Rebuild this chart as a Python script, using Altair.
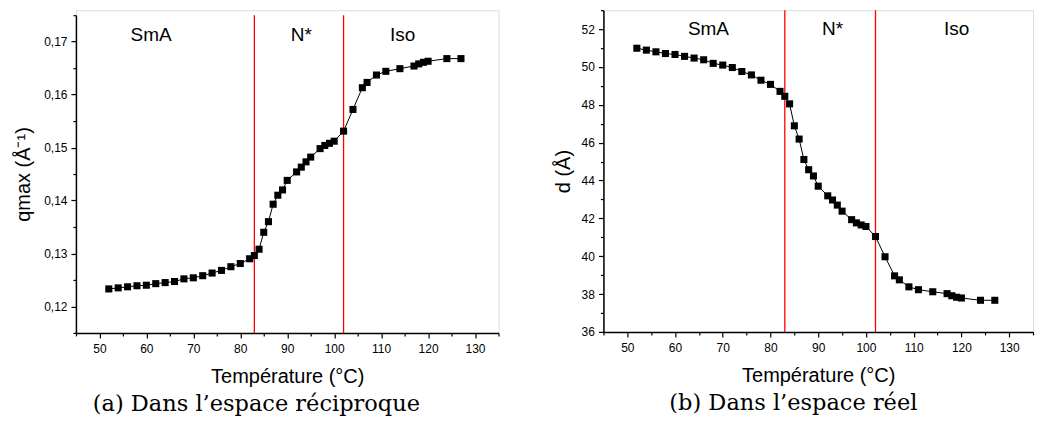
import altair as alt
import pandas as pd

# ---- data ----
temps = [52, 54, 56, 58, 60, 62, 64, 66, 68, 70, 72, 74, 76, 78, 80, 82,
         83, 84, 85, 86, 87, 88, 89, 90, 92, 93, 94, 95, 97, 98, 99, 100,
         102, 104, 106, 107, 109, 111, 114, 117, 118, 119, 120, 124, 127]
qmax = [0.1233, 0.1235, 0.1237, 0.1239, 0.1240, 0.1243, 0.1245, 0.1247,
        0.1252, 0.1254, 0.1258, 0.1263, 0.1268, 0.1275, 0.1281, 0.1290,
        0.1296, 0.1308, 0.1340, 0.1360, 0.1393, 0.1410, 0.1420, 0.1438,
        0.1454, 0.1463, 0.1473, 0.1482, 0.1498, 0.1504, 0.1508, 0.1512,
        0.1531, 0.1572, 0.1613, 0.1623, 0.1637, 0.1644, 0.1649, 0.1654,
        0.1658, 0.1661, 0.1663, 0.1668, 0.1668]
d_vals = [50.99, 50.89, 50.80, 50.71, 50.66, 50.56, 50.47, 50.38, 50.19,
          50.10, 49.97, 49.76, 49.58, 49.30, 49.08, 48.71, 48.45, 48.05,
          46.89, 46.19, 45.11, 44.57, 44.24, 43.70, 43.19, 42.97, 42.70,
          42.38, 41.93, 41.76, 41.65, 41.57, 41.04, 39.97, 38.96, 38.75,
          38.38, 38.23, 38.12, 38.02, 37.91, 37.83, 37.79, 37.67, 37.67]
transitions = [83, 102]
phase_names = ["SmA", "N*", "Iso"]
phase_x_left = [61, 93, 114.6]
phase_y_left = [0.1712, 0.1712, 0.1712]
phase_x_right = [67, 93, 119]
phase_y_right = [52.0, 52.0, 52.0]

x_domain = [45, 135]
q_domain = [0.115, 0.175]
d_domain = [36, 53]
x_ticks = list(range(45, 136, 5))
yq_ticks = [round(0.115 + 0.005 * i, 3) for i in range(13)]
yd_ticks = list(range(36, 54))

df = pd.DataFrame({"T": temps, "q": qmax, "d": d_vals})
lab_left = pd.DataFrame({"name": phase_names, "x": phase_x_left, "y": phase_y_left})
lab_right = pd.DataFrame({"name": phase_names, "x": phase_x_right, "y": phase_y_right})

SANS = "Liberation Sans"
SERIF = "DejaVu Serif"

xscale = alt.Scale(domain=x_domain, nice=False, zero=False)

common_axis = dict(
    grid=False, domainColor="black", domainWidth=1.5, tickColor="black",
    tickWidth=1.2, labelFont=SANS, labelColor="black",
    titleFont=SANS, titleFontSize=20, titleFontWeight="normal",
    titleColor="black", labelOverlap=False, labelFlush=False,
)


def major(test):
    return dict(
        tickSize={"condition": {"test": test, "value": 5}, "value": 3},
        labelFontSize={"condition": {"test": test, "value": 12}, "value": 0},
    )


X_MAJOR = "datum.value % 10 == 0"
X_AXIS = alt.Axis(
    values=x_ticks,
    labelExpr=f"{X_MAJOR} ? datum.value : ''",
    title="Température (°C)", labelPadding=6, titlePadding=12,
    **major(X_MAJOR), **common_axis)


def panel(ycol, yscale, ydom, yaxis, labels_df, caption):
    trans_df = pd.DataFrame({"T": transitions, "lo": [ydom[0]] * len(transitions),
                             "hi": [ydom[1]] * len(transitions)})
    X = alt.X("T:Q", scale=xscale, axis=X_AXIS)
    rules = alt.Chart(trans_df).mark_rule(color="#ff0000", strokeWidth=1.3).encode(
        x=X, y=alt.Y("lo:Q", scale=yscale, axis=yaxis), y2="hi:Q")
    line = alt.Chart(df).mark_line(color="black", strokeWidth=1).encode(
        x=X, y=alt.Y(f"{ycol}:Q", scale=yscale, axis=yaxis))
    pts = alt.Chart(df).mark_square(size=50, color="black", opacity=1).encode(
        x=X, y=alt.Y(f"{ycol}:Q", scale=yscale, axis=yaxis))
    texts = alt.Chart(labels_df).mark_text(font=SANS, fontSize=19, color="black",
                                           baseline="middle").encode(
        x=alt.X("x:Q", scale=xscale, axis=X_AXIS),
        y=alt.Y("y:Q", scale=yscale, axis=yaxis),
        text="name:N")
    return alt.layer(rules, line, pts, texts).properties(
        title=alt.TitleParams(caption, orient="bottom", font=SERIF, fontSize=22.5,
                              fontWeight="normal", color="black", anchor="middle",
                              frame="bounds", offset=6))


Q_MAJOR = "round(datum.value*1000) % 10 == 0"
yq_axis = alt.Axis(
    values=yq_ticks,
    labelExpr=f"{Q_MAJOR} ? replace(format(datum.value, '.2f'), '.', ',') : ''",
    title="qmax (Å⁻¹)", labelPadding=4, titlePadding=10,
    **major(Q_MAJOR), **common_axis)
D_MAJOR = "datum.value % 2 == 0"
yd_axis = alt.Axis(
    values=yd_ticks,
    labelExpr=f"{D_MAJOR} ? datum.value : ''",
    title="d (Å)", labelPadding=4, titlePadding=8,
    **major(D_MAJOR), **common_axis)

# left panel: its axis starts a few px below the shared top of the two panels
left = panel("q", alt.Scale(domain=q_domain, nice=False, zero=False, range=[323, 5]),
             q_domain, yq_axis, lab_left,
             "(a) Dans l’espace réciproque").properties(width=423, height=323)
right = panel("d", alt.Scale(domain=d_domain, nice=False, zero=False),
              d_domain, yd_axis, lab_right,
              "(b) Dans l’espace réel").properties(width=430, height=322)

chart = alt.hconcat(left, right, spacing=52).properties(
    padding={"left": 5, "top": 0, "right": 0, "bottom": 0}
).configure_view(strokeWidth=0).configure(background="white")

chart.save("out.html", embed_options={"renderer": "svg", "actions": False})
